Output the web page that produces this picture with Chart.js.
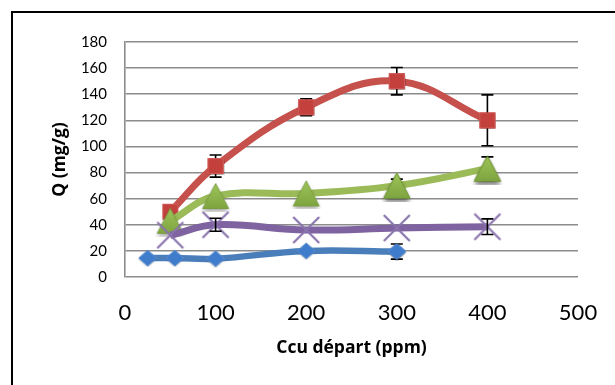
<!DOCTYPE html>
<html>
<head>
<meta charset="utf-8">
<script src="https://cdn.jsdelivr.net/npm/chart.js@4.4.0/dist/chart.umd.min.js"></script>
<style>
  html, body { margin: 0; padding: 0; background: #fff; overflow: hidden; }
  #wrap { position: relative; width: 615px; height: 385px; }
  #frame { position: absolute; left: 11px; top: 11px; width: 700px; height: 500px; border: 2px solid #000; pointer-events: none; }
  canvas { position: absolute; left: 0; top: 0; }
</style>
</head>
<body>
<div id="wrap">
  <canvas id="c" width="615" height="385"></canvas>
  <div id="frame"></div>
</div>
<script>
// ---- data ----
const xTicks = [0, 100, 200, 300, 400, 500];
const yTicks = [0, 20, 40, 60, 80, 100, 120, 140, 160, 180];

const blueX = [25, 55, 100, 200, 300];
const blueY = [14.5, 14.5, 14, 20, 19.5];
const blueErr = [0, 0, 0, 0, 5.8];

const redX = [50, 100, 200, 300, 400];
const redY = [50, 85, 130, 150, 120];
const redErr = [0, 8.5, 6.5, 10.5, 19.5];

const greenX = [50, 100, 200, 300, 400];
const greenY = [43, 62, 64, 70, 83];
const greenErr = [0, 0, 0, 5, 9];

const purpleX = [50, 100, 200, 300, 400];
const purpleY = [32, 40, 36, 37.5, 38.5];
const purpleErr = [0, 5, 0, 0, 6];

const xTitle = 'Ccu départ (ppm)';
const yTitle = 'Q (mg/g)';

// ---- marker images ----
function mk(w, h, fn) {
  const c = document.createElement('canvas');
  c.width = w; c.height = h;
  fn(c.getContext('2d'), w, h);
  return c;
}
const diamond = mk(20, 18, (g, w, h) => {
  g.shadowColor = 'rgba(0,0,0,0.25)'; g.shadowBlur = 2; g.shadowOffsetY = 1;
  g.beginPath();
  g.moveTo(w / 2, 1); g.lineTo(w - 1, h / 2); g.lineTo(w / 2, h - 1); g.lineTo(1, h / 2); g.closePath();
  g.fillStyle = '#3f7ccc'; g.fill();
  g.shadowColor = 'transparent';
  g.strokeStyle = '#5d8fcf'; g.lineWidth = 1; g.stroke();
});
const square = mk(18, 18, (g, w, h) => {
  g.shadowColor = 'rgba(0,0,0,0.25)'; g.shadowBlur = 2; g.shadowOffsetY = 1;
  g.fillStyle = '#c4403d'; g.fillRect(1.5, 1.5, w - 3, h - 3);
  g.shadowColor = 'transparent';
  g.strokeStyle = '#d05a57'; g.lineWidth = 1; g.strokeRect(1.5, 1.5, w - 3, h - 3);
});
const triangle = mk(32, 32, (g, w, h) => {
  g.shadowColor = 'rgba(0,0,0,0.35)'; g.shadowBlur = 4; g.shadowOffsetY = 3;
  g.beginPath();
  g.moveTo(w / 2, 3.5); g.lineTo(29, 28.5); g.lineTo(3, 28.5); g.closePath();
  const gr = g.createLinearGradient(0, 3.5, 0, 28.5);
  gr.addColorStop(0, '#9ec55a'); gr.addColorStop(1, '#7ea440');
  g.fillStyle = gr; g.fill();
  g.shadowColor = 'transparent';
  g.strokeStyle = '#7a9d3f'; g.lineWidth = 1; g.stroke();
});
const cross = mk(30, 30, (g, w, h) => {
  g.strokeStyle = '#8a74ad'; g.lineWidth = 2.2; g.lineCap = 'butt';
  g.beginPath();
  g.moveTo(2, 2); g.lineTo(w - 2, h - 2);
  g.moveTo(w - 2, 2); g.lineTo(2, h - 2);
  g.stroke();
});

function pts(xs, ys) { return xs.map((x, i) => ({ x: x, y: ys[i] })); }

const errPlugin = {
  id: 'errbars',
  afterDatasetsDraw(chart) {
    const ctx = chart.ctx;
    const xs = chart.scales.x, ys = chart.scales.y;
    const sets = chart.data.datasets;
    const idx = sets.map((d, i) => i).sort((a, b) => sets[b].order - sets[a].order);
    idx.forEach(i => {
      const ds = sets[i];
      const meta = chart.getDatasetMeta(i);
      ctx.save();
      ctx.strokeStyle = '#000'; ctx.lineWidth = 1.6;
      ds.errors.forEach((e, j) => {
        if (!e) return;
        const p = ds.data[j];
        const px = xs.getPixelForValue(p.x);
        const t = ys.getPixelForValue(p.y + e);
        const b = ys.getPixelForValue(p.y - e);
        ctx.beginPath();
        ctx.moveTo(px, t); ctx.lineTo(px, b);
        ctx.moveTo(px - 6, t); ctx.lineTo(px + 6, t);
        ctx.moveTo(px - 6, b); ctx.lineTo(px + 6, b);
        ctx.stroke();
      });
      ctx.restore();
      ds.errors.forEach((e, j) => { if (e && ds.redrawMarker) meta.data[j].draw(ctx, chart.chartArea); });
    });
  }
};

const FONT = 'Lato, "Open Sans", "DejaVu Sans", sans-serif';
const TFONT = '"Open Sans", Lato, "DejaVu Sans", sans-serif';

new Chart(document.getElementById('c'), {
  type: 'line',
  data: {
    datasets: [
      { label: 'blue', data: pts(blueX, blueY), errors: blueErr, redrawMarker: true, order: 3,
        borderColor: '#4a7ebb', borderWidth: 6.5, pointStyle: diamond, pointRadius: 9, tension: 0.4, fill: false },
      { label: 'red', data: pts(redX, redY), errors: redErr, redrawMarker: true, order: 2,
        borderColor: '#c5504c', borderWidth: 7, pointStyle: square, pointRadius: 9, tension: 0.4, fill: false },
      { label: 'green', data: pts(greenX, greenY), errors: greenErr, redrawMarker: true, order: 1,
        borderColor: '#9bbb59', borderWidth: 7, pointStyle: triangle, pointRadius: 14, tension: 0.4, fill: false },
      { label: 'purple', data: pts(purpleX, purpleY), errors: purpleErr, redrawMarker: false, order: 0,
        borderColor: '#7f63a1', borderWidth: 7, pointStyle: cross, pointRadius: 14, tension: 0.4, fill: false }
    ]
  },
  options: {
    responsive: false,
    animation: false,
    events: [],
    layout: { padding: { left: 0, right: 37, top: 42, bottom: 0 } },
    plugins: { legend: { display: false }, tooltip: { enabled: false } },
    scales: {
      x: {
        type: 'linear', min: 0, max: 500,
        afterBuildTicks(s) { s.ticks = xTicks.map(v => ({ value: v })); },
        afterFit(s) { s.height = 108; },
        grid: { display: false, drawTicks: true, tickLength: 23 },
        border: { display: false },
        ticks: { padding: 0, color: '#000', font: { family: FONT, size: 22 } },
        title: { display: true, text: xTitle, color: '#000', padding: { top: 0, bottom: 26 },
                 font: { family: TFONT, size: 17.5, weight: 'bold' } }
      },
      y: {
        min: 0, max: 180,
        afterBuildTicks(s) { s.ticks = yTicks.map(v => ({ value: v })); },
        afterFit(s) { s.width = 125; },
        grid: { color: '#8c8c8c', lineWidth: 1.6, drawTicks: false },
        border: { display: true, color: '#8c8c8c', width: 1.6 },
        ticks: { padding: 18, color: '#000', font: { family: FONT, size: 15 } },
        title: { display: true, text: yTitle, color: '#000', padding: { top: 50, bottom: 0 },
                 font: { family: TFONT, size: 17.5, weight: 'bold' } }
      }
    }
  },
  plugins: [errPlugin]
});
</script>
</body>
</html>
